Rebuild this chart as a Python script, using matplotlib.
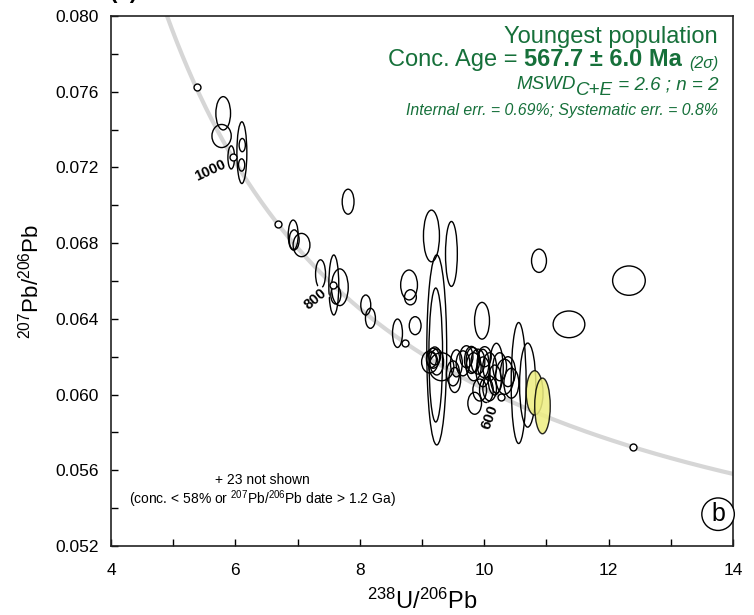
import numpy as np
import matplotlib
matplotlib.use('Agg')
import matplotlib.pyplot as plt
from matplotlib.patches import Ellipse

plt.rcParams['font.family'] = ['Liberation Sans', 'DejaVu Sans']
plt.rcParams['mathtext.fontset'] = 'custom'
plt.rcParams['mathtext.rm'] = 'Liberation Sans'
plt.rcParams['mathtext.it'] = 'Liberation Sans:italic'

# error ellipses: centre (238U/206Pb, 207Pb/206Pb) and full width/height (2 sigma)
ell_x = [5.804, 5.778, 5.933, 6.104, 6.11, 6.10, 6.929, 6.945, 7.063, 7.812,
         7.369, 7.582, 7.679, 7.614, 8.096, 8.171, 8.792, 8.814, 8.89, 8.606,
         9.152, 9.473, 10.881, 9.965, 11.363, 12.327, 9.237, 9.221,
         9.178, 9.152, 9.205, 9.124, 9.237, 9.312, 9.553, 9.499, 9.526, 9.659,
         9.714, 9.794, 9.82, 9.831, 9.900, 9.981, 9.981, 10.008, 10.088, 9.928,
         10.035, 10.088, 10.169, 10.196, 10.249, 10.329, 10.382, 10.437, 9.847,
         10.554, 10.699]
ell_y = [0.07486, 0.07366, 0.07253, 0.07278, 0.07318, 0.07213, 0.06843, 0.06817, 0.0679, 0.07019,
         0.06637, 0.06579, 0.06567, 0.06526, 0.06473, 0.06403, 0.06579, 0.06514, 0.06364, 0.06324,
         0.06838, 0.06743, 0.06707, 0.0639, 0.06371, 0.06602, 0.06236, 0.06209,
         0.06192, 0.06183, 0.06204, 0.06172, 0.06172, 0.06147, 0.06165, 0.06112, 0.06077, 0.06165,
         0.0620, 0.06183, 0.06183, 0.06147, 0.06174, 0.06165, 0.0612, 0.0620, 0.06147, 0.06024,
         0.06024, 0.06033, 0.06077, 0.06139, 0.06147, 0.06094, 0.06121, 0.0606, 0.05954,
         0.06061, 0.0605]
ell_w = [0.236, 0.31, 0.107, 0.16, 0.10, 0.10, 0.16, 0.16, 0.27, 0.19,
         0.16, 0.16, 0.27, 0.16, 0.16, 0.16, 0.27, 0.19, 0.19, 0.16,
         0.257, 0.19, 0.24, 0.24, 0.51, 0.525, 0.32, 0.22,
         0.21, 0.16, 0.19, 0.26, 0.22, 0.40, 0.19, 0.21, 0.19, 0.22,
         0.21, 0.22, 0.22, 0.24, 0.22, 0.19, 0.22, 0.21, 0.22, 0.22,
         0.22, 0.22, 0.21, 0.22, 0.22, 0.29, 0.24, 0.24, 0.22,
         0.24, 0.26]
ell_h = [0.00176, 0.00122, 0.00122, 0.00326, 0.00070, 0.00065, 0.00158, 0.00106, 0.00123, 0.00132,
         0.0015, 0.00317, 0.00194, 0.00095, 0.00106, 0.00106, 0.00158, 0.00080, 0.00095, 0.0015,
         0.00273, 0.00343, 0.00123, 0.00194, 0.00141, 0.00155, 0.01004, 0.00708,
         0.00106, 0.00079, 0.00095, 0.00116, 0.00137, 0.00148, 0.00143, 0.00132, 0.00132, 0.00132,
         0.00116, 0.00143, 0.00132, 0.00148, 0.00132, 0.00148, 0.00158, 0.00106, 0.00148, 0.00116,
         0.00132, 0.00132, 0.00158, 0.00264, 0.00148, 0.00185, 0.00158, 0.00158, 0.00116,
         0.00639, 0.00444]

# analyses with very small ellipses
dot_x = [5.377, 5.955, 6.678, 7.571, 8.723, 12.40, 10.276]
dot_y = [0.07627, 0.07253, 0.06901, 0.06579, 0.06274, 0.05721, 0.05989]

# youngest population (used for the concordia age)
yel_x = [10.811, 10.937]
yel_y = [0.06009, 0.0594]
yel_w = [0.27, 0.25]
yel_h = [0.00234, 0.00294]

label_ages = [600, 800, 1000]
label_rot = [70, 40, 25]
label_off = [(-7, -15), (-13, -10), (-16, -9)]

# Tera-Wasserburg concordia
l238 = 1.55125e-10
l235 = 9.8485e-10
U85 = 137.88


def concordia(t_ma):
    t = np.asarray(t_ma) * 1e6
    e8 = np.exp(l238 * t) - 1
    e5 = np.exp(l235 * t) - 1
    return 1 / e8, e5 / (U85 * e8)


green = '#16703a'

fig = plt.figure(figsize=(7.54, 6.15), dpi=100)
ax = fig.add_axes([111 / 754, 69 / 615, 622 / 754, 530 / 615])

cx, cy = concordia(np.linspace(300, 1800, 500))
ax.plot(cx, cy, color='#d6d6d6', lw=3, zorder=1, solid_capstyle='butt')

for x, y, w, h in zip(ell_x, ell_y, ell_w, ell_h):
    ax.add_patch(Ellipse((x, y), w, h, facecolor='none', edgecolor='black', lw=1.0, zorder=3))
for x, y, w, h in zip(yel_x, yel_y, yel_w, yel_h):
    ax.add_patch(Ellipse((x, y), w, h, facecolor='#eeee80', edgecolor='black', lw=1.0, alpha=0.85, zorder=4))
ax.plot(dot_x, dot_y, 'o', mfc='white', mec='black', ms=5, mew=1.0, zorder=5)

for age, rot, off in zip(label_ages, label_rot, label_off):
    px, py = concordia(age)
    ax.annotate(str(age), (px, py), xytext=off, textcoords='offset points',
                ha='center', va='center', rotation=rot, fontsize=10.5, fontweight='bold',
                bbox=dict(boxstyle='square,pad=0.05', fc='white', ec='none'), zorder=6)

ax.set_xlim(4, 14)
ax.set_ylim(0.052, 0.080)
ax.set_xticks([4, 6, 8, 10, 12, 14])
ax.set_xticks([5, 7, 9, 11, 13], minor=True)
ax.set_yticks(np.arange(0.052, 0.0801, 0.004))
ax.set_yticks(np.arange(0.054, 0.080, 0.004), minor=True)
ax.yaxis.set_major_formatter(plt.FormatStrFormatter('%.3f'))
ax.tick_params(which='both', direction='in', top=False, right=False, labelsize=12.5, length=5, width=1)
ax.tick_params(axis='x', pad=12)
ax.tick_params(axis='y', pad=9)
for s in ax.spines.values():
    s.set_linewidth(1.2)
    s.set_color('#222222')

ax.set_xlabel(r'$^{238}$U/$^{206}$Pb', fontsize=17, labelpad=8)
ax.set_ylabel(r'$^{207}$Pb/$^{206}$Pb', fontsize=16, labelpad=8)

# annotation block, right aligned
ax.text(0.976, 0.9496, 'Youngest population', transform=ax.transAxes, ha='right',
        va='baseline', fontsize=17, color=green)
t1 = ax.text(0.976, 0.9013, '(2σ)', transform=ax.transAxes, ha='right', va='baseline',
             fontsize=11.5, style='italic', color=green)
t2 = ax.annotate('567.7 ± 6.0 Ma ', (0, 0), xycoords=t1, ha='right', va='bottom',
                 fontsize=17, fontweight='bold', color=green)
ax.annotate('Conc. Age = ', (0, 0), xycoords=t2, ha='right', va='bottom',
            fontsize=17, color=green)
m1 = ax.text(0.976, 0.8617, ' = 2.6 ; n = 2', transform=ax.transAxes, ha='right', va='baseline',
             fontsize=13.5, style='italic', color=green)
m2 = ax.annotate('C+E', (0, 0), xycoords=m1, xytext=(0, -4), textcoords='offset points',
                 ha='right', va='bottom', fontsize=13.5, style='italic', color=green)
ax.annotate('MSWD', (0, 0), xycoords=m2, xytext=(0, 4), textcoords='offset points',
            ha='right', va='bottom', fontsize=13.5, style='italic', color=green)
ax.text(0.976, 0.8132, 'Internal err. = 0.69%; Systematic err. = 0.8%', transform=ax.transAxes,
        ha='right', va='baseline', fontsize=11.4, style='italic', color=green)

ax.text(0.243, 0.1245, '+ 23 not shown', transform=ax.transAxes, ha='center', va='center', fontsize=10)
ax.text(0.243, 0.0887, r'(conc. < 58% or $^{207}$Pb/$^{206}$Pb date > 1.2 Ga)', transform=ax.transAxes,
        ha='center', va='center', fontsize=10)

ax.text(0.976, 0.060, 'b', transform=ax.transAxes, ha='center', va='center', fontsize=18,
        bbox=dict(boxstyle='circle,pad=0.17', fc='white', ec='black', lw=1))

fig.text(110 / 754, 1 - 3 / 615, '(b)', ha='left', va='bottom', fontsize=16, fontweight='bold')

fig.savefig('out.png', dpi=100)
